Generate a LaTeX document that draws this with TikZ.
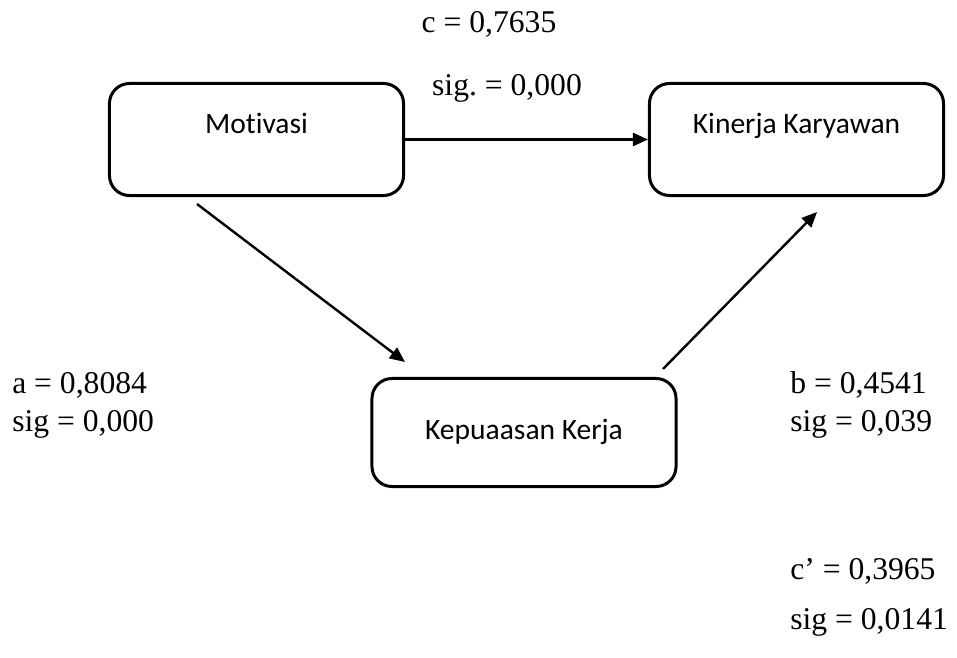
\documentclass[tikz,border=0pt]{standalone}
\usepackage{fontspec}
\setmainfont{Liberation Serif}
\newfontfamily\boxfont[Ligatures=NoCommon]{Carlito}
\usetikzlibrary{arrows.meta,positioning}
\frenchspacing

\begin{document}
\begin{tikzpicture}[
    x=0.025cm, y=-0.025cm,
    varbox/.style={rectangle, draw, line width=0.075cm, rounded corners=0.5cm, font=\boxfont\fontsize{21}{25}\selectfont, text height=14pt, text depth=4pt},
    topbox/.style={varbox, minimum width=7.35cm, minimum height=2.8cm, text depth=22.4pt},
    path/.style={-{Triangle[length=0.38cm, width=0.33cm]}, line width=0.06cm},
    coef/.style={font=\fontsize{22.5}{27}\selectfont, anchor=west, inner sep=0pt}
]
    \useasboundingbox (0,0) rectangle (957,657);

    % Variables
    \node[topbox] (motivasi) at (256.5,139.5) {Motivasi};
    \node[topbox] (kinerja) at (796.5,139.5) {Kinerja Karyawan};
    \node[varbox, minimum width=7.6cm, minimum height=2.7cm] (kepuasan) at (524,432.5) {Kepuaasan Kerja};

    % Free ends of the indirect paths
    \coordinate (motStart) at (197,204);
    \coordinate (kepEnd) at (405,362);
    \coordinate (kepStart) at (663,369);
    \coordinate (kinEnd) at (817,212);

    % Paths
    \draw[path] (motivasi.east) -- (kinerja.west);
    \draw[path] (motStart) -- (kepEnd);
    \draw[path] (kepStart) -- (kinEnd);

    % Coefficients
    \node[coef, anchor=center] (cTot) at (489,24) {c = 0,7635};
    \node[coef, anchor=center] (cSig) at (507,88) {sig. = 0,000};
    \node[coef] (aVal) at (12,385) {a = 0,8084};
    \node[coef] (aSig) at (12,424) {sig = 0,000};
    \node[coef] (bVal) at (790,385) {b = 0,4541};
    \node[coef] (bSig) at (790,424) {sig = 0,039};
    \node[coef] (cDir) at (790,571) {c’ = 0,3965};
    \node[coef] (cDirSig) at (790,622) {sig = 0,0141};

\end{tikzpicture}
\end{document}
